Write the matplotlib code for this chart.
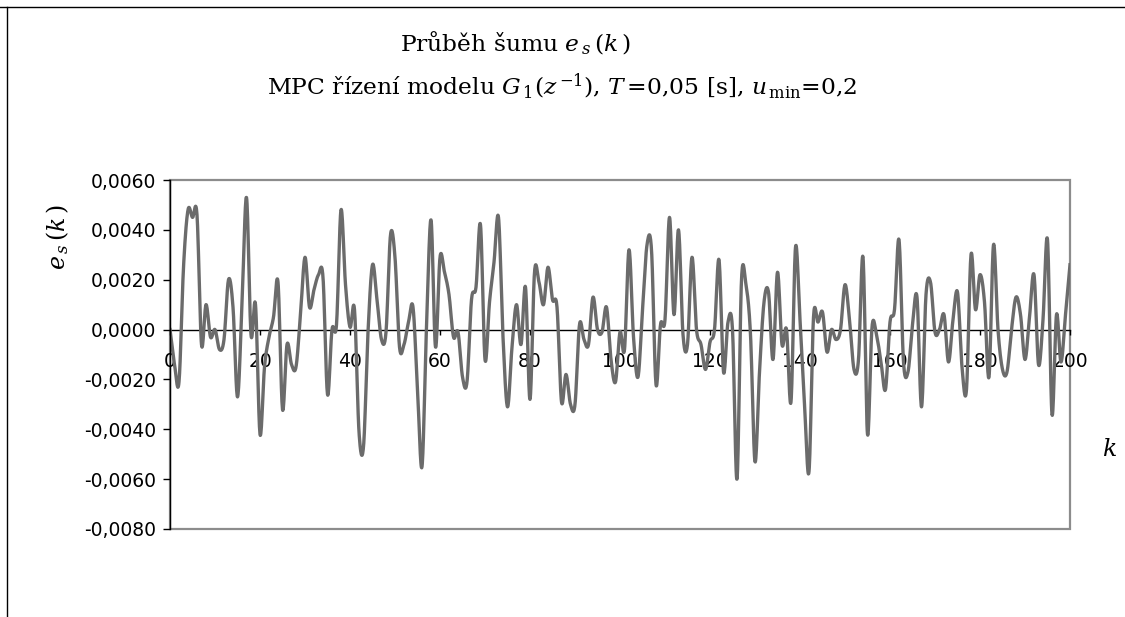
import numpy as np
import matplotlib
matplotlib.use("Agg")
import matplotlib.pyplot as plt
from matplotlib.patches import Rectangle
from matplotlib.lines import Line2D
from matplotlib.ticker import FuncFormatter

plt.rcParams["font.family"] = ["DejaVu Sans"]
plt.rcParams["mathtext.fontset"] = "dejavuserif"

# Samples k = 0 .. 200
k = np.arange(0, 201)

# Noise e_s(k)
e_s = np.array([
    0.0000, -0.0014, -0.0021, 0.0025, 0.0048, 0.0045, 0.0046, -0.0006, 0.0010, -0.0003,
    0.0000, -0.0008, -0.0004, 0.0020, 0.0009, -0.0027, 0.0010, 0.0053, -0.0002, 0.0010,
    -0.0042, -0.0015, -0.0003, 0.0005, 0.0019, -0.0032, -0.0006, -0.0014, -0.0015, 0.0006,
    0.0029, 0.0009, 0.0016, 0.0022, 0.0021, -0.0026, 0.0000, 0.0002, 0.0048, 0.0018,
    0.0001, 0.0008, -0.0041, -0.0047, -0.0001, 0.0026, 0.0012, -0.0004, -0.0001, 0.0038,
    0.0029, -0.0007, -0.0006, 0.0003, 0.0009, -0.0024, -0.0055, 0.0001, 0.0044, -0.0007,
    0.0029, 0.0023, 0.0014, -0.0003, -0.0001, -0.0019, -0.0021, 0.0012, 0.0017, 0.0042,
    -0.0012, 0.0011, 0.0027, 0.0045, -0.0003, -0.0031, -0.0007, 0.0010, -0.0006, 0.0017,
    -0.0028, 0.0023, 0.0019, 0.0010, 0.0025, 0.0012, 0.0009, -0.0029, -0.0018, -0.0030,
    -0.0030, 0.0002, -0.0004, -0.0006, 0.0013, 0.0000, -0.0001, 0.0009, -0.0012, -0.0021,
    -0.0001, -0.0008, 0.0032, -0.0003, -0.0019, 0.0008, 0.0034, 0.0032, -0.0022, 0.0002,
    0.0004, 0.0045, 0.0006, 0.0040, -0.0002, -0.0006, 0.0029, 0.0000, -0.0006, -0.0016,
    -0.0005, 0.0000, 0.0028, -0.0017, 0.0003, 0.0000, -0.0060, 0.0020, 0.0018, -0.0002,
    -0.0053, -0.0017, 0.0011, 0.0015, -0.0012, 0.0023, -0.0006, 0.0000, -0.0029, 0.0033,
    0.0004, -0.0030, -0.0057, 0.0005, 0.0003, 0.0007, -0.0009, 0.0000, -0.0004, 0.0000,
    0.0018, 0.0004, -0.0016, -0.0012, 0.0029, -0.0042, 0.0001, -0.0002, -0.0013, -0.0024,
    0.0003, 0.0008, 0.0036, -0.0013, -0.0017, 0.0002, 0.0013, -0.0031, 0.0014, 0.0019,
    -0.0001, 0.0000, 0.0006, -0.0013, 0.0004, 0.0015, -0.0015, -0.0024, 0.0030, 0.0008,
    0.0022, 0.0011, -0.0019, 0.0034, 0.0000, -0.0016, -0.0017, 0.0000, 0.0013, 0.0006,
    -0.0012, 0.0005, 0.0022, -0.0014, 0.0004, 0.0036, -0.0034, 0.0006, -0.0013, 0.0006,
    0.0026,
])

x_ticks = [0, 20, 40, 60, 80, 100, 120, 140, 160, 180, 200]
y_ticks = [-0.008, -0.006, -0.004, -0.002, 0.0, 0.002, 0.004, 0.006]

W, H = 1125, 617


def smooth_curve(x, y, n=16):
    """Cubic Bezier smoothing through every sample (spreadsheet-style smoothed line)."""
    x = np.asarray(x, float)
    y = np.asarray(y, float)
    xp = np.concatenate([[x[0]], x, [x[-1]]])
    yp = np.concatenate([[y[0]], y, [y[-1]]])
    t = np.linspace(0, 1, n, endpoint=False)[:, None]
    p1x, p2x = xp[1:-2], xp[2:-1]
    p1y, p2y = yp[1:-2], yp[2:-1]
    c1x = p1x + (xp[2:-1] - xp[:-3]) / 6
    c1y = p1y + (yp[2:-1] - yp[:-3]) / 6
    c2x = p2x - (xp[3:] - xp[1:-2]) / 6
    c2y = p2y - (yp[3:] - yp[1:-2]) / 6
    b0 = (1 - t) ** 3
    b1 = 3 * (1 - t) ** 2 * t
    b2 = 3 * (1 - t) * t ** 2
    b3 = t ** 3
    cx = b0 * p1x + b1 * c1x + b2 * c2x + b3 * p2x
    cy = b0 * p1y + b1 * c1y + b2 * c2y + b3 * p2y
    cx = np.concatenate([cx.T.ravel(), [x[-1]]])
    cy = np.concatenate([cy.T.ravel(), [y[-1]]])
    return cx, cy


def px(x, y):
    return x / W, 1 - y / H


fig = plt.figure(figsize=(W / 100, H / 100), dpi=100)
fig.patch.set_facecolor("white")

# outer frame lines of the chart object
fig.add_artist(Line2D([0, 1], [1 - 6.5 / H, 1 - 6.5 / H], color="black", lw=1.0))
fig.add_artist(Line2D([6.5 / W, 6.5 / W], [0, 1 - 6.5 / H], color="black", lw=1.0))

ax = fig.add_axes([170 / W, 1 - 529 / H, 900 / W, 349 / H])

sx, sy = smooth_curve(k, e_s)
ax.plot(sx, sy, color="#6b6b6b", lw=2.4, solid_joinstyle="round", zorder=3)

ax.set_xlim(0, 200)
ax.set_ylim(-0.008, 0.006)

# plot-area border
for side in ("top", "right"):
    ax.spines[side].set_visible(False)
ax.add_patch(Rectangle((0, 0), 1, 1, transform=ax.transAxes, fill=False,
                       edgecolor="#8c8c8c", lw=1.6, zorder=1, clip_on=False))
ax.spines["left"].set_color("black")
ax.spines["left"].set_linewidth(1.0)
ax.spines["left"].set_zorder(4)
ax.spines["bottom"].set_position(("data", 0))
ax.spines["bottom"].set_color("black")
ax.spines["bottom"].set_linewidth(1.0)
ax.spines["bottom"].set_zorder(2)

ax.set_xticks(x_ticks)
ax.set_yticks(y_ticks)
ax.yaxis.set_major_formatter(
    FuncFormatter(lambda v, p: f"{v:.4f}".replace(".", ",").replace("-0,0000", "0,0000")))
ax.tick_params(axis="y", direction="out", length=5, width=1, pad=5, labelsize=13.5, color="black")
ax.tick_params(axis="x", direction="out", length=3.5, width=1, pad=13, labelsize=13.5, color="black")

serif = "DejaVu Serif"
fig.text(*px(515, 43), r"Průběh šumu $e_{\,s}\,(k\,)$", ha="center", va="center",
         fontsize=16.8, family=serif)
fig.text(*px(562, 86),
         r"MPC řízení modelu $G_{\,1}(z^{\,\mathrm{-1}})$, $T\,$=0,05 [s], $u_{\,\mathrm{min}}$=0,2",
         ha="center", va="center", fontsize=16.8, family=serif)
fig.text(*px(58, 237), r"$e_{\,s}\,(k\,)$", rotation=90, ha="center", va="center",
         fontsize=17, family=serif)
fig.text(*px(1109, 449), r"$k$", ha="center", va="center", fontsize=17, family=serif)

fig.savefig("out.png", dpi=100)
